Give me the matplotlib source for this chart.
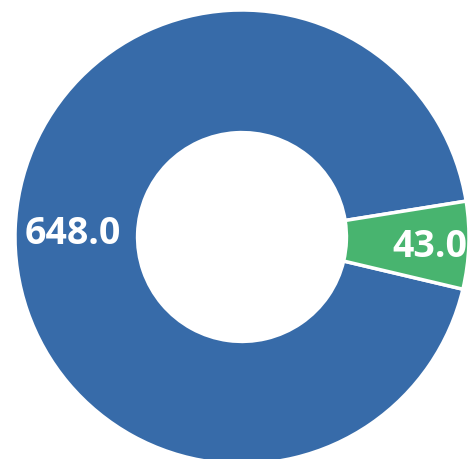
import matplotlib
matplotlib.use("Agg")
import matplotlib.pyplot as plt
import numpy as np

categories = ["A", "B"]
values = [648.0, 43.0]
labels = ["648.0", "43.0"]
colors = ["#376BA9", "#48B46F"]

fig = plt.figure(figsize=(4.74, 4.60), dpi=100)
ax = fig.add_axes([15/474, -5/460, 454/474, 454/460])
wedges, _ = ax.pie(values, colors=colors, startangle=9.1, counterclock=True,
                   radius=1.0, wedgeprops=dict(width=0.54, edgecolor="white", linewidth=2.5))
ax.set_xlim(-1, 1)
ax.set_ylim(-1, 1)
ax.set_aspect("equal")
ax.axis("off")

label_r = [0.745, 0.83]
for w, lab, r in zip(wedges, labels, label_r):
    ang = np.deg2rad((w.theta1 + w.theta2) / 2)
    ax.text(r * np.cos(ang), r * np.sin(ang) - 0.01, lab, ha="center", va="center",
            color="white", fontsize=27, fontweight="bold", family=["Open Sans", "DejaVu Sans"])

fig.savefig("out.png", dpi=100)
